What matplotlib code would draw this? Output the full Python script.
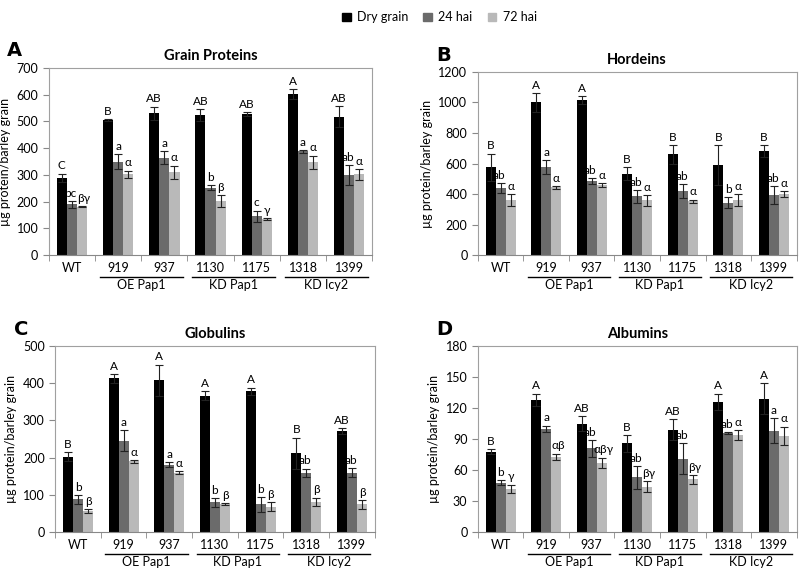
import matplotlib.pyplot as plt
import numpy as np
from matplotlib.patches import Patch

plt.rcParams['font.family'] = ['Lato', 'DejaVu Sans']

lines = ['WT', '919', '937', '1130', '1175', '1318', '1399']
groups = [('OE Pap1', 1, 2), ('KD Pap1', 3, 4), ('KD Icy2', 5, 6)]
series = ['Dry grain', '24 hai', '72 hai']
colors = ['#000000', '#6b6b6b', '#b9b9b9']

# A - grain proteins
a_dry = [290, 505, 530, 525, 528, 603, 518]
a_dry_err = [15, 5, 25, 22, 8, 18, 38]
a_24 = [190, 350, 365, 252, 145, 388, 300]
a_24_err = [13, 28, 25, 10, 22, 5, 38]
a_72 = [182, 303, 310, 203, 135, 347, 303]
a_72_err = [2, 13, 25, 23, 5, 25, 20]
a_lab = [['C', 'B', 'AB', 'AB', 'AB', 'A', 'AB'],
         ['bc', 'a', 'a', 'b', 'c', 'a', 'ab'],
         ['βγ', 'α', 'α', 'β', 'γ', 'α', 'α']]

# B - hordeins
b_dry = [575, 1000, 1015, 535, 660, 590, 680]
b_dry_err = [90, 60, 25, 40, 60, 130, 40]
b_24 = [440, 580, 485, 385, 420, 345, 395]
b_24_err = [30, 45, 20, 40, 45, 35, 60]
b_72 = [360, 445, 462, 360, 352, 362, 402]
b_72_err = [40, 10, 12, 35, 12, 40, 18]
b_lab = [['B', 'A', 'A', 'B', 'B', 'B', 'B'],
         ['ab', 'a', 'ab', 'ab', 'ab', 'b', 'ab'],
         ['α', 'α', 'α', 'α', 'α', 'α', 'α']]

# C - globulins
c_dry = [203, 413, 408, 367, 378, 212, 272]
c_dry_err = [12, 12, 42, 12, 10, 42, 7]
c_24 = [88, 246, 181, 80, 75, 159, 160]
c_24_err = [12, 28, 7, 12, 20, 12, 12]
c_72 = [57, 190, 160, 75, 68, 81, 75]
c_72_err = [5, 4, 5, 3, 12, 12, 12]
c_lab = [['B', 'A', 'A', 'A', 'A', 'B', 'AB'],
         ['b', 'a', 'a', 'b', 'b', 'ab', 'ab'],
         ['β', 'α', 'α', 'β', 'β', 'β', 'β']]

# D - albumins
d_dry = [78, 128, 105, 86, 99, 126, 129]
d_dry_err = [2, 6, 7, 8, 10, 8, 15]
d_24 = [48, 100, 81, 53, 71, 96, 98]
d_24_err = [2, 3, 8, 11, 15, 1, 12]
d_72 = [42, 73, 67, 44, 51, 94, 93]
d_72_err = [4, 3, 5, 5, 4, 5, 9]
d_lab = [['B', 'A', 'AB', 'B', 'AB', 'A', 'A'],
         ['b', 'a', 'ab', 'ab', 'ab', 'ab', 'a'],
         ['γ', 'αβ', 'αβγ', 'βγ', 'βγ', 'α', 'α']]

panels = [
    ('A', 'Grain Proteins', [a_dry, a_24, a_72], [a_dry_err, a_24_err, a_72_err], a_lab,
     700, 100, [0.061, 0.553, 0.405, 0.328]),
    ('B', 'Hordeins', [b_dry, b_24, b_72], [b_dry_err, b_24_err, b_72_err], b_lab,
     1200, 200, [0.598, 0.553, 0.399, 0.321]),
    ('C', 'Globulins', [c_dry, c_24, c_72], [c_dry_err, c_24_err, c_72_err], c_lab,
     500, 100, [0.069, 0.068, 0.400, 0.326]),
    ('D', 'Albumins', [d_dry, d_24, d_72], [d_dry_err, d_24_err, d_72_err], d_lab,
     180, 30, [0.598, 0.068, 0.399, 0.326]),
]

fig = plt.figure(figsize=(7.99, 5.71), dpi=100)
x = np.arange(len(lines))
w = 0.22
grey = '#a0a0a0'

for letter, title, vals, errs, labs, ymax, step, pos in panels:
    ax = fig.add_axes(pos)
    for i in range(3):
        xs = x + (i - 1) * w
        ax.bar(xs, vals[i], w, color=colors[i], yerr=errs[i],
               error_kw=dict(ecolor='#222222', elinewidth=0.8, capsize=3, capthick=0.8))
        for xi, v, e, t in zip(xs, vals[i], errs[i], labs[i]):
            # nudge the two lower labels apart a little where they crowd
            dx = 0.0
            if len(t) > 1 and i == 1:
                dx = -0.03
            elif len(t) > 1 and i == 2:
                dx = 0.04
            ax.text(xi + dx, v + e + ymax * 0.012, t, ha='center', va='bottom',
                    fontsize=8.5)
    ax.set_xlim(-0.5, len(lines) - 0.5)
    ax.set_ylim(0, ymax)
    ax.set_yticks(np.arange(0, ymax + 1, step))
    ax.set_xticks(x)
    ax.set_xticklabels(lines, fontsize=9)
    ax.set_xticks(np.arange(-0.5, len(lines)), minor=True)
    ax.tick_params(axis='x', which='major', length=0, pad=5)
    ax.tick_params(axis='x', which='minor', length=4, color='#888888')
    ax.tick_params(axis='y', labelsize=9, length=4, color='#888888')
    for s in ax.spines.values():
        s.set_color(grey)
        s.set_linewidth(0.8)
    ax.spines['bottom'].set_color('#888888')
    ax.set_ylabel('µg protein/barley grain', fontsize=9)
    ax.set_title(title, fontsize=10.5, fontweight='bold', pad=6)
    ax.text(-0.13, 1.04, letter, transform=ax.transAxes, fontsize=14,
            fontweight='bold', family='DejaVu Sans', ha='left', va='bottom')
    trans = ax.get_xaxis_transform()
    for name, g0, g1 in groups:
        ax.plot([g0 - 0.4, g1 + 0.4], [-0.118, -0.118], color='black', lw=1,
                transform=trans, clip_on=False)
        ax.text((g0 + g1) / 2, -0.128, name, transform=trans, ha='center',
                va='top', fontsize=9)

handles = [Patch(color=c) for c in colors]
fig.legend(handles, series, loc='upper center', bbox_to_anchor=(0.55, 1.0),
           ncol=3, frameon=False, fontsize=9, handlelength=0.7,
           handleheight=0.7, columnspacing=1.2, handletextpad=0.5)

fig.savefig('out.png', dpi=100)
